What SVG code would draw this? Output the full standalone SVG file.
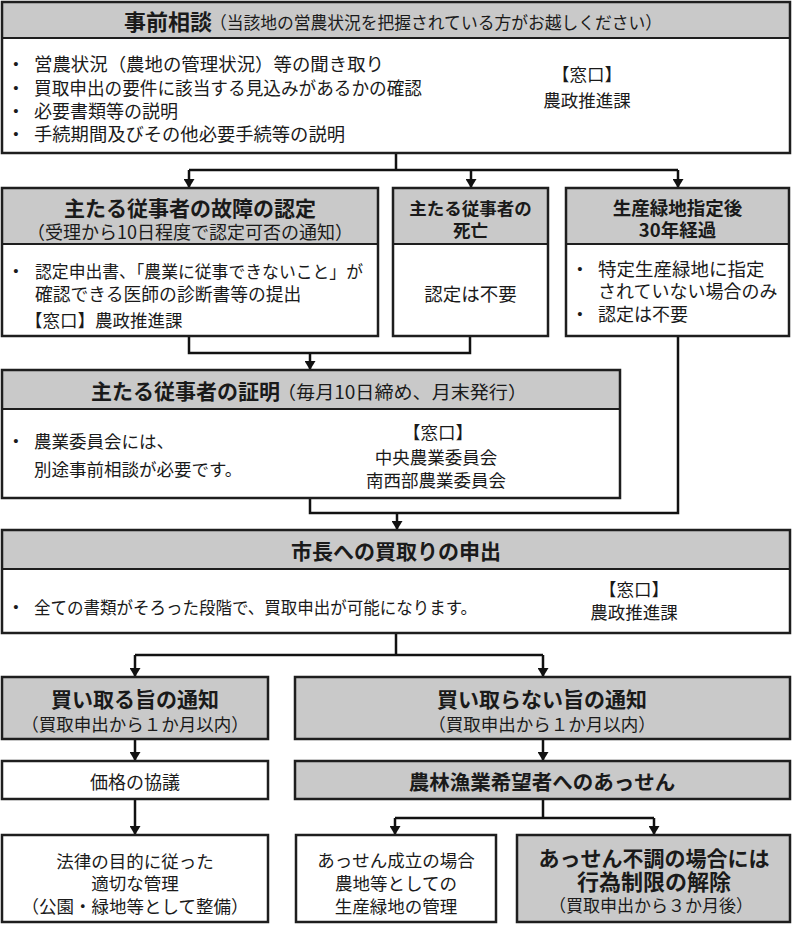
<svg xmlns="http://www.w3.org/2000/svg" width="792" height="925" viewBox="0 0 792 925">
<style>
.box{fill:none;stroke:#1e1e1e;stroke-width:2.5}
.hd{fill:#c9c9c9}
.wt{fill:#fff}
.sep{stroke:#1e1e1e;stroke-width:1.8}
.t{font-family:"Noto Sans CJK JP","Noto Sans",sans-serif;fill:#1a1a1a;dominant-baseline:central;font-size:17.5px}
.b{font-weight:bold}
.c{text-anchor:middle}
.bu{font-family:"Liberation Sans",sans-serif;font-size:15px;text-anchor:middle}
.conn{fill:none;stroke:#111;stroke-width:2.5}
</style>
<defs>
<marker id="ah" viewBox="0 0 10 10" refX="10" refY="5" markerWidth="9" markerHeight="11" markerUnits="userSpaceOnUse" orient="auto" preserveAspectRatio="none">
<path d="M0,0 L10,5 L0,10 z" fill="#111"/>
</marker>
</defs>
<rect width="792" height="925" fill="#fff"/>

<g id="connectors">
<path class="conn" d="M396,153 V170 M189,170 H678"/>
<path class="conn" d="M189,170 V188" marker-end="url(#ah)"/>
<path class="conn" d="M471,170 V188" marker-end="url(#ah)"/>
<path class="conn" d="M678,170 V188" marker-end="url(#ah)"/>
<path class="conn" d="M189,336 V353 H470 V336"/>
<path class="conn" d="M310,353 V370" marker-end="url(#ah)"/>
<path class="conn" d="M310,498 V513 H678 V336"/>
<path class="conn" d="M397,513 V530" marker-end="url(#ah)"/>
<path class="conn" d="M396,633 V655 M135,655 H543"/>
<path class="conn" d="M135,655 V677" marker-end="url(#ah)"/>
<path class="conn" d="M543,655 V677" marker-end="url(#ah)"/>
<path class="conn" d="M135,739 V761" marker-end="url(#ah)"/>
<path class="conn" d="M543,739 V761" marker-end="url(#ah)"/>
<path class="conn" d="M135,799 V835" marker-end="url(#ah)"/>
<path class="conn" d="M543,799 V818 M395,818 H654"/>
<path class="conn" d="M395,818 V835" marker-end="url(#ah)"/>
<path class="conn" d="M654,818 V835" marker-end="url(#ah)"/>
</g>

<g id="n-jizen">
<rect class="wt" x="2" y="2" width="788" height="151"/>
<rect class="hd" x="2" y="2" width="788" height="36"/>
<line class="sep" x1="2" y1="38" x2="790" y2="38"/>
<rect class="box" x="2" y="2" width="788" height="151"/>
<text class="t b" x="124" y="20" textLength="88" lengthAdjust="spacingAndGlyphs" style="font-size:22px">事前相談</text>
<text class="t" x="210" y="21" textLength="452" lengthAdjust="spacingAndGlyphs">（当該地の営農状況を把握されている方がお越しください）</text>
<text class="t bu" x="16" y="63">•</text>
<text class="t bu" x="16" y="87">•</text>
<text class="t bu" x="16" y="110">•</text>
<text class="t bu" x="16" y="133">•</text>
<text class="t" x="34" y="63" textLength="350" lengthAdjust="spacingAndGlyphs" style="font-size:18px">営農状況（農地の管理状況）等の聞き取り</text>
<text class="t" x="34" y="87" textLength="388" lengthAdjust="spacingAndGlyphs" style="font-size:18px">買取申出の要件に該当する見込みがあるかの確認</text>
<text class="t" x="34" y="110" style="font-size:18px">必要書類等の説明</text>
<text class="t" x="34" y="133" textLength="311" lengthAdjust="spacingAndGlyphs" style="font-size:18px">手続期間及びその他必要手続等の説明</text>
<text class="t c" x="587" y="73">【窓口】</text>
<text class="t c" x="587" y="99">農政推進課</text>
</g>

<g id="n-kosho">
<rect class="wt" x="2" y="188" width="376" height="148"/>
<rect class="hd" x="2" y="188" width="376" height="56"/>
<line class="sep" x1="2" y1="244" x2="378" y2="244"/>
<rect class="box" x="2" y="188" width="376" height="148"/>
<text class="t b c" x="190" y="207" style="font-size:21px">主たる従事者の故障の認定</text>
<text class="t c" x="190" y="231" style="font-size:18px">（受理から10日程度で認定可否の通知）</text>
<text class="t bu" x="16" y="270">•</text>
<text class="t" x="35" y="270" textLength="328" lengthAdjust="spacingAndGlyphs">認定申出書、「農業に従事できないこと」が</text>
<text class="t" x="35" y="293" style="font-size:17.8px">確認できる医師の診断書等の提出</text>
<text class="t" x="25" y="319">【窓口】農政推進課</text>
</g>

<g id="n-shibo">
<rect class="wt" x="393" y="188" width="155" height="148"/>
<rect class="hd" x="393" y="188" width="155" height="56"/>
<line class="sep" x1="393" y1="244" x2="548" y2="244"/>
<rect class="box" x="393" y="188" width="155" height="148"/>
<text class="t b c" x="470.5" y="207">主たる従事者の</text>
<text class="t b c" x="470.5" y="229">死亡</text>
<text class="t c" x="470.5" y="293" style="font-size:18.5px">認定は不要</text>
</g>

<g id="n-30nen">
<rect class="wt" x="566" y="188" width="223" height="148"/>
<rect class="hd" x="566" y="188" width="223" height="56"/>
<line class="sep" x1="566" y1="244" x2="789" y2="244"/>
<rect class="box" x="566" y="188" width="223" height="148"/>
<text class="t b c" x="677.5" y="207" style="font-size:18.5px">生産緑地指定後</text>
<text class="t b c" x="677.5" y="229" style="font-size:18.5px">30年経過</text>
<text class="t bu" x="580" y="268">•</text>
<text class="t" x="598" y="268" style="font-size:18.5px">特定生産緑地に指定</text>
<text class="t" x="598" y="290" style="font-size:18px">されていない場合のみ</text>
<text class="t bu" x="580" y="313">•</text>
<text class="t" x="598" y="313" style="font-size:18px">認定は不要</text>
</g>

<g id="n-shomei">
<rect class="wt" x="2" y="370" width="618" height="128"/>
<rect class="hd" x="2" y="370" width="618" height="39"/>
<line class="sep" x1="2" y1="409" x2="620" y2="409"/>
<rect class="box" x="2" y="370" width="618" height="128"/>
<text class="t b" x="91" y="390" textLength="189" lengthAdjust="spacingAndGlyphs" style="font-size:21px">主たる従事者の証明</text>
<text class="t" x="277" y="391" textLength="250" lengthAdjust="spacingAndGlyphs" style="font-size:18px">（毎月10日締め、月末発行）</text>
<text class="t bu" x="16" y="440">•</text>
<text class="t" x="34" y="440">農業委員会には、</text>
<text class="t" x="34" y="468">別途事前相談が必要です。</text>
<text class="t c" x="438" y="431">【窓口】</text>
<text class="t c" x="436" y="456">中央農業委員会</text>
<text class="t c" x="436" y="479">南西部農業委員会</text>
</g>

<g id="n-moushide">
<rect class="wt" x="2" y="530" width="788" height="103"/>
<rect class="hd" x="2" y="530" width="788" height="39"/>
<line class="sep" x1="2" y1="569" x2="790" y2="569"/>
<rect class="box" x="2" y="530" width="788" height="103"/>
<text class="t b c" x="396" y="550" style="font-size:21px">市長への買取りの申出</text>
<text class="t bu" x="16" y="606">•</text>
<text class="t" x="34" y="606" textLength="443" lengthAdjust="spacingAndGlyphs">全ての書類がそろった段階で、買取申出が可能になります。</text>
<text class="t c" x="634" y="588">【窓口】</text>
<text class="t c" x="634" y="611">農政推進課</text>
</g>

<g id="n-kaitoru">
<rect class="box" x="2" y="677" width="266" height="62" style="fill:#c9c9c9"/>
<text class="t b c" x="135" y="698" style="font-size:21px">買い取る旨の通知</text>
<text class="t c" x="135" y="723">（買取申出から１か月以内）</text>
</g>

<g id="n-kaitoranai">
<rect class="box" x="295" y="677" width="495" height="62" style="fill:#c9c9c9"/>
<text class="t b c" x="542" y="698" style="font-size:21px">買い取らない旨の通知</text>
<text class="t c" x="542" y="723">（買取申出から１か月以内）</text>
</g>

<g id="n-kakaku">
<rect class="box" x="2" y="761" width="266" height="38" style="fill:#fff"/>
<text class="t c" x="135" y="781" style="font-size:18px">価格の協議</text>
</g>

<g id="n-assen">
<rect class="box" x="295" y="761" width="495" height="38" style="fill:#c9c9c9"/>
<text class="t b c" x="542" y="781" style="font-size:20.5px">農林漁業希望者へのあっせん</text>
</g>

<g id="n-kanri">
<rect class="box" x="2" y="835" width="266" height="87" style="fill:#fff"/>
<text class="t c" x="135" y="860">法律の目的に従った</text>
<text class="t c" x="135" y="882">適切な管理</text>
<text class="t c" x="135" y="905">（公園・緑地等として整備）</text>
</g>

<g id="n-seiritsu">
<rect class="box" x="296" y="835" width="200" height="87" style="fill:#fff"/>
<text class="t c" x="396" y="859">あっせん成立の場合</text>
<text class="t c" x="396" y="882">農地等としての</text>
<text class="t c" x="396" y="905">生産緑地の管理</text>
</g>

<g id="n-fucho">
<rect class="box" x="517" y="835" width="273" height="87" style="fill:#c9c9c9"/>
<text class="t b c" x="654" y="857" style="font-size:21px">あっせん不調の場合には</text>
<text class="t b c" x="654" y="880" style="font-size:22px">行為制限の解除</text>
<text class="t c" x="651" y="904" style="font-size:17px">（買取申出から３か月後）</text>
</g>
</svg>
